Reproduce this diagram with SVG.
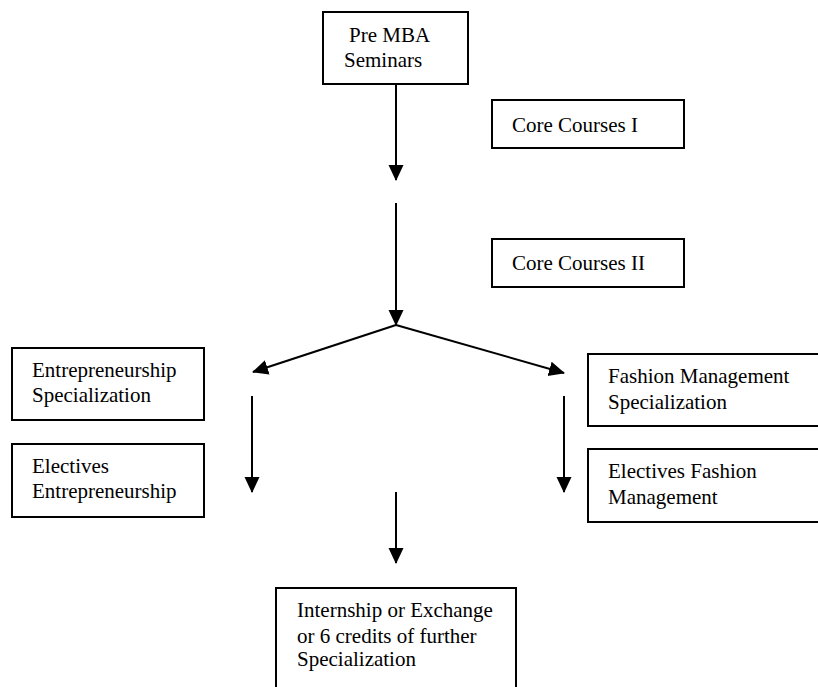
<svg xmlns="http://www.w3.org/2000/svg" width="818" height="687" viewBox="0 0 818 687">
<style>
rect.box{fill:#fff;stroke:#000;stroke-width:2}
text{font-family:"Liberation Serif","Times New Roman",serif;font-size:21px;fill:#000}
.conn line{stroke:#000;stroke-width:2}
</style>
<defs>
<marker id="ah" markerUnits="userSpaceOnUse" markerWidth="16" markerHeight="16" refX="15" refY="7.5" orient="auto" viewBox="0 0 16 15">
<path d="M0,0 L16,7.5 L0,15 z" fill="#000"/>
</marker>
</defs>
<rect width="818" height="687" fill="#fff"/>
<g id="pre-mba">
<rect class="box" x="323" y="12" width="145" height="72"/>
<text x="349" y="42">Pre MBA</text>
<text x="344" y="67">Seminars</text>
</g>
<g id="core1">
<rect class="box" x="492" y="100" width="192" height="48"/>
<text x="512" y="132">Core Courses I</text>
</g>
<g id="core2">
<rect class="box" x="492" y="239" width="192" height="48"/>
<text x="512" y="270">Core Courses II</text>
</g>
<g id="ent-spec">
<rect class="box" x="12" y="348" width="192" height="72"/>
<text x="32" y="377">Entrepreneurship</text>
<text x="32" y="402">Specialization</text>
</g>
<g id="ent-elec">
<rect class="box" x="12" y="444" width="192" height="73"/>
<text x="32" y="473">Electives</text>
<text x="32" y="498">Entrepreneurship</text>
</g>
<g id="fash-spec">
<rect class="box" x="588" y="354" width="240" height="72"/>
<text x="608" y="383">Fashion Management</text>
<text x="608" y="409">Specialization</text>
</g>
<g id="fash-elec">
<rect class="box" x="588" y="449" width="240" height="73"/>
<text x="608" y="478">Electives Fashion</text>
<text x="608" y="504">Management</text>
</g>
<g id="internship">
<rect class="box" x="276" y="588" width="240" height="110"/>
<text x="297" y="617">Internship or Exchange</text>
<text x="297" y="643">or 6 credits of further</text>
<text x="297" y="666">Specialization</text>
</g>
<g class="conn" id="connectors">
<line x1="396" y1="84" x2="396" y2="180" marker-end="url(#ah)"/>
<line x1="396" y1="203" x2="396" y2="325" marker-end="url(#ah)"/>
<line x1="396" y1="325" x2="253" y2="372" marker-end="url(#ah)"/>
<line x1="396" y1="325" x2="564" y2="373" marker-end="url(#ah)"/>
<line x1="252" y1="396" x2="252" y2="492" marker-end="url(#ah)"/>
<line x1="564" y1="396" x2="564" y2="492" marker-end="url(#ah)"/>
<line x1="396" y1="492" x2="396" y2="563" marker-end="url(#ah)"/>
</g>
</svg>
